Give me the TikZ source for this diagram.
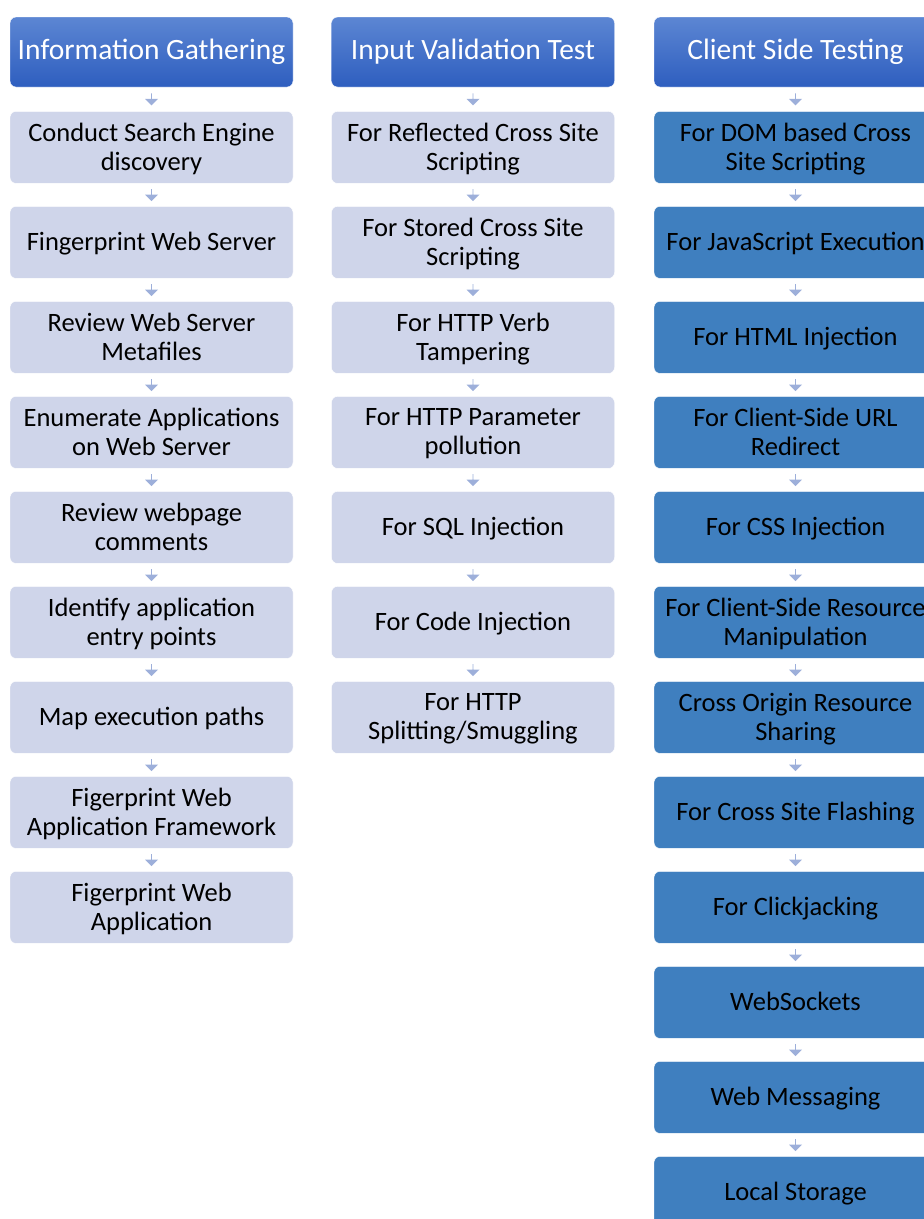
\documentclass[tikz,border=0pt]{standalone}
\usepackage{fontspec}
\setmainfont{Carlito}
\usepackage{tikz}
\usetikzlibrary{positioning,shapes.arrows}
\definecolor{headtop}{HTML}{5C86D3}
\definecolor{headbot}{HTML}{2E5EBF}
\definecolor{lightbox}{HTML}{CFD5EA}
\definecolor{darkbox}{HTML}{3F7FBF}
\definecolor{arrowcol}{HTML}{9DAFDA}

\begin{document}
\begin{tikzpicture}[x=1pt,y=-1pt,% styles for all boxes of the three columns
			every node/.style={
				align=center,  		% "\\" breaks the lines
				font=\fontsize{26.5}{29}\selectfont
			},
			node distance=22.6pt,
			every edge/.style={draw=none},
			head/.style={rectangle,rounded corners=6pt,draw=white,thin,
				top color=headtop,bottom color=headbot,text=white,
				minimum width=283pt,minimum height=70pt,
				font=\fontsize{29.5}{33}\selectfont},
			stepbox/.style={rectangle,rounded corners=6pt,draw=white,thin,
				fill=lightbox,minimum width=283pt,minimum height=72pt,
				text depth=1.5pt},
			darkstep/.style={stepbox,fill=darkbox},
			downarrow/.style={single arrow,draw=none,fill=arrowcol,
				shape border rotate=270,minimum width=13pt,minimum height=12pt,
				single arrow head extend=2.5pt,inner sep=0pt}
		]
		\useasboundingbox (0,0) rectangle (924,1219);
		% first column
		\node[head](H1) at (151.5,52){Information Gathering};
		\node[stepbox](A1)[below=24pt of H1]{Conduct Search Engine\\discovery};
		\node[stepbox](A2)[below= of A1]{Fingerprint Web Server};
		\node[stepbox](A3)[below= of A2]{Review Web Server\\Metafiles};
		\node[stepbox](A4)[below= of A3]{Enumerate Applications\\on Web Server};
		\node[stepbox](A5)[below= of A4]{Review webpage\\comments};
		\node[stepbox](A6)[below= of A5]{Identify application\\entry points};
		\node[stepbox](A7)[below= of A6]{Map execution paths};
		\node[stepbox](A8)[below= of A7]{Figerprint Web\\Application Framework};
		\node[stepbox](A9)[below= of A8]{Figerprint Web\\Application};
		% second column
		\node[head](H2) at (473,52){Input Validation Test};
		\node[stepbox](B1)[below=24pt of H2]{For Reflected Cross Site\\Scripting};
		\node[stepbox](B2)[below= of B1]{For Stored Cross Site\\Scripting};
		\node[stepbox](B3)[below= of B2]{For HTTP Verb\\Tampering};
		\node[stepbox](B4)[below= of B3]{For HTTP Parameter\\pollution};
		\node[stepbox](B5)[below= of B4]{For SQL Injection};
		\node[stepbox](B6)[below= of B5]{For Code Injection};
		\node[stepbox](B7)[below= of B6]{For HTTP\\Splitting/Smuggling};
		% third column
		\node[head](H3) at (795.5,52){Client Side Testing};
		\node[darkstep](C1)[below=24pt of H3]{For DOM based Cross\\Site Scripting};
		\node[darkstep](C2)[below= of C1]{For JavaScript Execution};
		\node[darkstep](C3)[below= of C2]{For HTML Injection};
		\node[darkstep](C4)[below= of C3]{For Client-Side URL\\Redirect};
		\node[darkstep](C5)[below= of C4]{For CSS Injection};
		\node[darkstep](C6)[below= of C5]{For Client-Side Resource\\Manipulation};
		\node[darkstep](C7)[below= of C6]{Cross Origin Resource\\Sharing};
		\node[darkstep](C8)[below= of C7]{For Cross Site Flashing};
		\node[darkstep](C9)[below= of C8]{For Clickjacking};
		\node[darkstep](C10)[below= of C9]{WebSockets};
		\node[darkstep](C11)[below= of C10]{Web Messaging};
		\node[darkstep](C12)[below= of C11]{Local Storage};
		\path
		(H1)edge	node [downarrow] {} (A1)
		(A1)edge	node [downarrow] {} (A2)
		(A2)edge	node [downarrow] {} (A3)
		(A3)edge	node [downarrow] {} (A4)
		(A4)edge	node [downarrow] {} (A5)
		(A5)edge	node [downarrow] {} (A6)
		(A6)edge	node [downarrow] {} (A7)
		(A7)edge	node [downarrow] {} (A8)
		(A8)edge	node [downarrow] {} (A9)
		(H2)edge	node [downarrow] {} (B1)
		(B1)edge	node [downarrow] {} (B2)
		(B2)edge	node [downarrow] {} (B3)
		(B3)edge	node [downarrow] {} (B4)
		(B4)edge	node [downarrow] {} (B5)
		(B5)edge	node [downarrow] {} (B6)
		(B6)edge	node [downarrow] {} (B7)
		(H3)edge	node [downarrow] {} (C1)
		(C1)edge	node [downarrow] {} (C2)
		(C2)edge	node [downarrow] {} (C3)
		(C3)edge	node [downarrow] {} (C4)
		(C4)edge	node [downarrow] {} (C5)
		(C5)edge	node [downarrow] {} (C6)
		(C6)edge	node [downarrow] {} (C7)
		(C7)edge	node [downarrow] {} (C8)
		(C8)edge	node [downarrow] {} (C9)
		(C9)edge	node [downarrow] {} (C10)
		(C10)edge	node [downarrow] {} (C11)
		(C11)edge	node [downarrow] {} (C12)
		;
	\end{tikzpicture}
\end{document}
